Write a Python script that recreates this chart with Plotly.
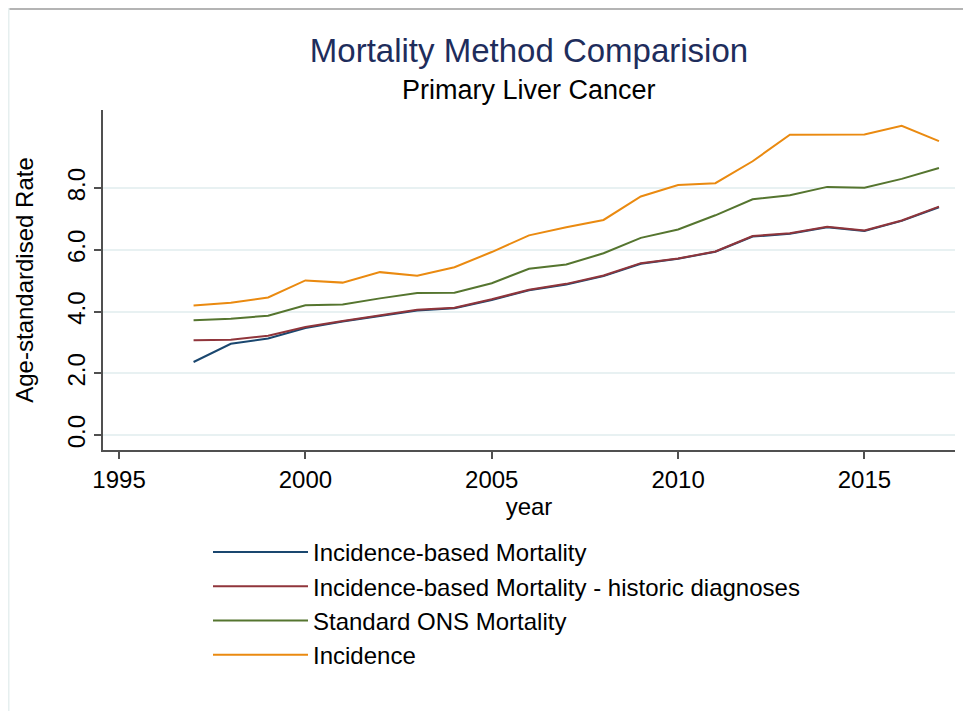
import plotly.graph_objects as go

years = list(range(1997, 2018))

ibm = [2.37, 2.96, 3.13, 3.47, 3.68, 3.86, 4.04, 4.11, 4.38, 4.69, 4.88, 5.15,
       5.55, 5.71, 5.94, 6.43, 6.52, 6.73, 6.61, 6.94, 7.38]
ibm_hist = [3.07, 3.09, 3.22, 3.50, 3.70, 3.87, 4.06, 4.13, 4.40, 4.71, 4.90, 5.17,
            5.57, 5.72, 5.95, 6.45, 6.54, 6.75, 6.63, 6.95, 7.40]
ons = [3.72, 3.77, 3.87, 4.21, 4.23, 4.43, 4.60, 4.61, 4.92, 5.39, 5.53, 5.89,
       6.39, 6.66, 7.12, 7.64, 7.77, 8.04, 8.01, 8.30, 8.65]
incidence = [4.20, 4.29, 4.46, 5.01, 4.94, 5.28, 5.16, 5.44, 5.93, 6.47, 6.73, 6.97,
             7.73, 8.10, 8.16, 8.87, 9.73, 9.73, 9.74, 10.02, 9.52]

series_names = ["Incidence-based Mortality",
                "Incidence-based Mortality - historic diagnoses",
                "Standard ONS Mortality",
                "Incidence"]
series_values = [ibm, ibm_hist, ons, incidence]
series_colors = ["#1a476f", "#90353b", "#55752f", "#ea8a10"]

x_tickvals = [1995, 2000, 2005, 2010, 2015]
y_tickvals = [0, 2, 4, 6, 8]
y_ticktext = ["0.0", "2.0", "4.0", "6.0", "8.0"]

FONT = "Liberation Sans, Arial, sans-serif"

# figure is placed at an 8px page offset by the browser body margin
W, H = 963, 703
L, R, T, B = 95, 947, 102, 442
PW, PH = R - L, B - T


def px(x):
    return (x - L) / PW


def py(y):
    return (B - y) / PH


fig = go.Figure()
for i, (name, vals, col) in enumerate(zip(series_names, series_values, series_colors)):
    fig.add_trace(go.Scatter(x=years, y=vals, mode="lines", name=name,
                             legendgroup=f"g{i}",
                             line=dict(color=col, width=2)))

fig.update_layout(
    width=W, height=H,
    margin=dict(l=L, r=W - R, t=T, b=H - B, pad=0),
    paper_bgcolor="white", plot_bgcolor="white",
    font=dict(family=FONT, color="black"),
    title=dict(text="Mortality Method Comparision", x=0.5, xref="paper",
               xanchor="center", y=1 - 42 / H, yanchor="middle",
               font=dict(size=33, color="#1e2d5c", family=FONT)),
    showlegend=True,
    legend=dict(x=px(200), xanchor="left", y=py(522),
                yanchor="top", font=dict(size=24, family=FONT),
                itemwidth=95, tracegroupgap=6, bgcolor="rgba(0,0,0,0)",
                traceorder="normal"),
    xaxis=dict(range=[1994.57, 2017.43], tickvals=x_tickvals,
               showgrid=False, zeroline=False,
               showline=True, linecolor="#505050", linewidth=1.5,
               ticks="outside", ticklen=7, tickcolor="#505050", tickwidth=1.5,
               tickfont=dict(size=24, family=FONT),
               title=dict(text="year", font=dict(size=24, family=FONT), standoff=2)),
    yaxis=dict(range=[-0.48, 10.53], tickvals=y_tickvals, ticktext=y_ticktext,
               tickangle=-90,
               showgrid=True, gridcolor="#e8f1f2", gridwidth=1.5, zeroline=False,
               showline=True, linecolor="#505050", linewidth=1.5,
               ticks="outside", ticklen=7, tickcolor="#505050", tickwidth=1.5,
               tickfont=dict(size=24, family=FONT),
               title=dict(text="Age-standardised Rate",
                          font=dict(size=24, family=FONT), standoff=22)),
)

fig.add_annotation(text="Primary Liver Cancer", xref="paper", yref="paper",
                   x=0.5, y=py(82), xanchor="center", yanchor="middle",
                   showarrow=False, font=dict(size=27, family=FONT, color="black"))

# screenshot frame lines
fig.add_shape(type="line", xref="paper", yref="paper",
              x0=px(0), x1=px(W), y0=py(1), y1=py(1),
              line=dict(color="#b4b4b4", width=2))
fig.add_shape(type="line", xref="paper", yref="paper",
              x0=px(0.5), x1=px(0.5), y0=py(0), y1=py(H),
              line=dict(color="#e6efef", width=2))

fig.write_html("out.html")
